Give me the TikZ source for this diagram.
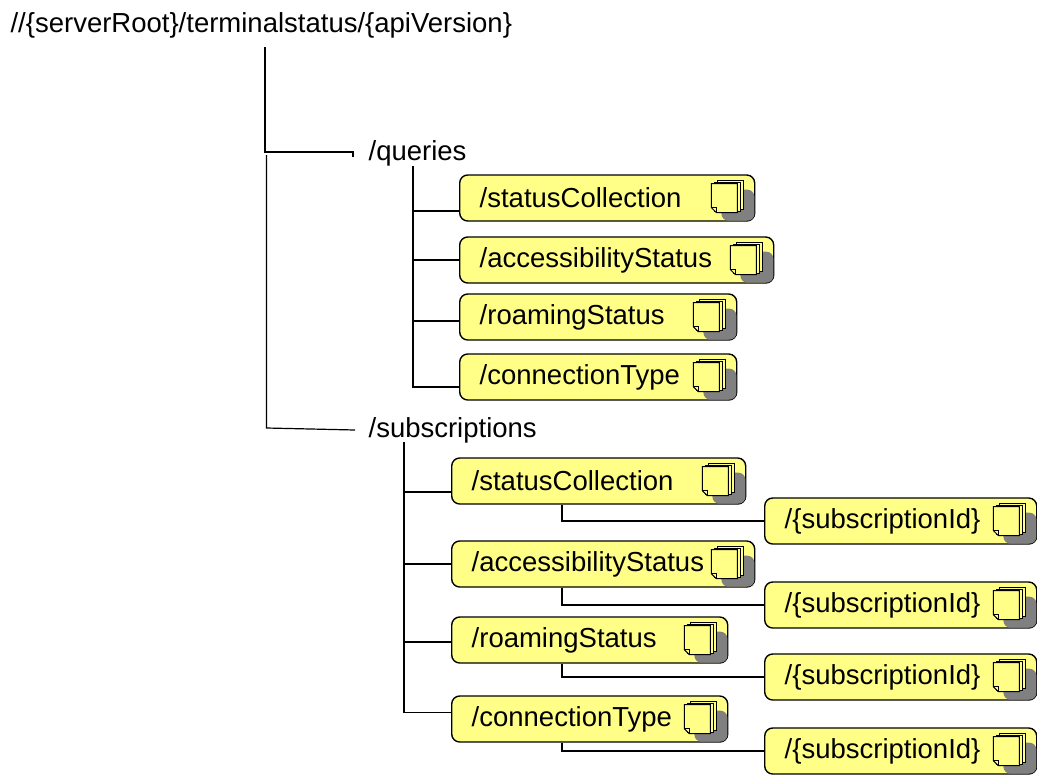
\documentclass[tikz,border=0pt]{standalone}
\usepackage{fontspec}
\setmainfont{Liberation Sans}
\definecolor{resyellow}{RGB}{255,255,136}
\definecolor{resshadow}{RGB}{128,128,128}
\tikzset{
  lbl/.style={anchor=west, inner sep=0pt},
  resbox/.style={draw=black, line width=0.7pt, fill=resyellow, rounded corners=4pt,
    anchor=west, minimum height=23pt, inner xsep=10pt, inner ysep=0pt,
    text width=#1, align=left},
  resicon/.pic={
    \fill[resshadow, rounded corners=3.5pt] (-17pt,0.5pt) rectangle (-0.5pt,16pt);
    \foreach \o in {3,1.5}
      \filldraw[fill=resyellow, line width=0.5pt]
        (-22pt+\o pt,4.5pt+\o pt/2) rectangle (-9pt+\o pt,19pt+\o pt/2);
    \filldraw[fill=resyellow, line width=0.5pt]
      (-22pt,7pt) -- (-22pt,19pt) -- (-9pt,19pt) -- (-9pt,4.5pt) -- (-19.5pt,4.5pt) -- cycle;
    \draw[line width=0.5pt] (-22pt,7pt) -- (-19.5pt,7pt) -- (-19.5pt,4.5pt);
  },
}
\begin{document}
\begin{tikzpicture}[x=0.5pt, y=-0.5pt, line width=0.6pt,
  every node/.style={font=\fontsize{13.75}{16}\selectfont}]
\useasboundingbox (0,0) rectangle (1037,776);

% Root and the two collections
\node[lbl] (root) at (10,25) {//\{serverRoot\}/terminalstatus/\{apiVersion\}};
\node[lbl] (queries) at (368,153) {/queries};
\node[lbl] (subs) at (368,430) {/subscriptions};

% queries
\node[resbox=127.5pt] (qsc) at (459,198) {/statusCollection};
\node[resbox=137pt] (qas) at (459,260) {/accessibilityStatus};
\node[resbox=118.5pt] (qrs) at (459,317) {/roamingStatus};
\node[resbox=118.5pt] (qct) at (459,377) {/connectionType};

% subscriptions
\node[resbox=127pt] (ssc) at (451,481) {/statusCollection};
\node[resbox=116pt] (sid1) at (764,521) {/\{subscriptionId\}};
\node[resbox=131.5pt] (sas) at (451,564) {/accessibilityStatus};
\node[resbox=116pt] (sid2) at (764,605) {/\{subscriptionId\}};
\node[resbox=118pt] (srs) at (451,640) {/roamingStatus};
\node[resbox=116pt] (sid3) at (764,677) {/\{subscriptionId\}};
\node[resbox=118pt] (sct) at (451,719) {/connectionType};
\node[resbox=116pt] (sid4) at (764,751) {/\{subscriptionId\}};

% page icons
\foreach \b in {qsc,qas,qrs,qct,ssc,sid1,sas,sid2,srs,sid3,sct,sid4}
  \pic at (\b.south east) {resicon};

% Tree lines
\coordinate (j1) at (265,152);
\coordinate (qend) at (353,152);
\coordinate (j2top) at (266.5,155);
\coordinate (j2) at (266.5,428);
\coordinate (qj) at (413,166);
\coordinate (sj) at (404,442);

\draw[shorten <=4.5pt] (root.south -| j1) -- (j1) -- (qend) -- ([yshift=-2.5pt]qend);
\draw (j2top) -- (j2) -- ([xshift=-6.5pt]subs.west);

\foreach \b/\s in {qsc/-6.5, qas/0, qrs/-2, qct/-5}
  \draw (qj) |- ([yshift=\s pt]\b.west);
\foreach \b/\s in {ssc/-5.5, sas/0, srs/-1, sct/3.25}
  \draw (sj) |- ([yshift=\s pt]\b.west);
\foreach \b/\i in {ssc/sid1, sas/sid2, srs/sid3, sct/sid4}
  \draw ([xshift=55.5pt]\b.south west) |- (\i.west);

\end{tikzpicture}
\end{document}
